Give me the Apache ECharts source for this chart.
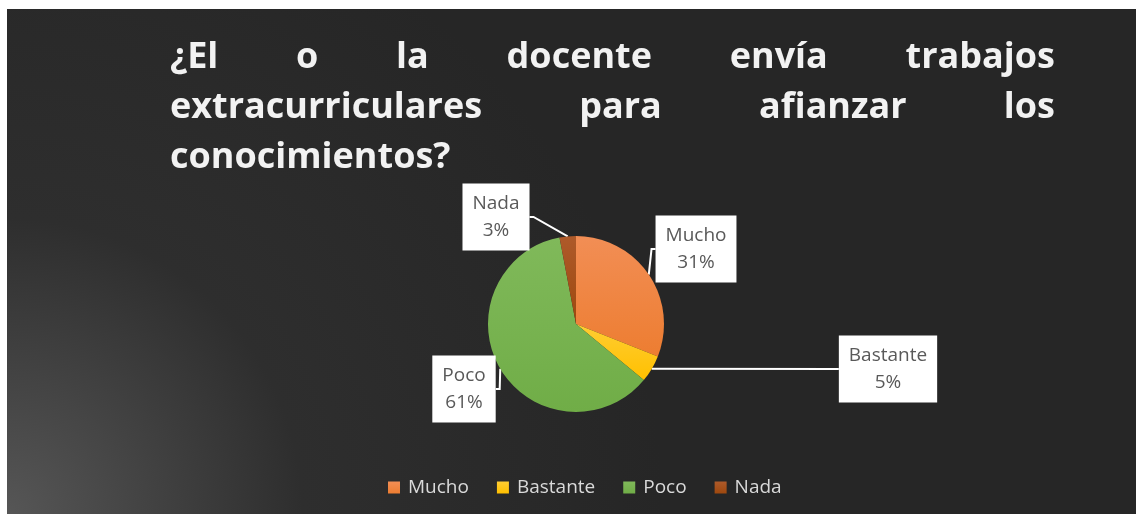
<!DOCTYPE html>
<html>
<head>
<meta charset="utf-8">
<script src="https://cdn.jsdelivr.net/npm/echarts@6/dist/echarts.min.js"></script>
<style>
  html, body { margin: 0; padding: 0; background: #ffffff; }
  #chart { position: absolute; left: 7px; top: 9px; width: 1129px; height: 505px; }
</style>
</head>
<body>
<div id="chart"></div>
<script>
// datos
const categorias = ['Mucho', 'Bastante', 'Poco', 'Nada'];
const valores = [31, 5, 61, 3];
const colores = ['#ED7D31', '#FFC000', '#70AD47', '#9E480E'];
const coloresClaros = ['#F28E55', '#FFCD33', '#80B95A', '#AE5A2A'];
const lineasTitulo = [
  ['¿El', 'o', 'la', 'docente', 'envía', 'trabajos'],
  ['extracurriculares', 'para', 'afianzar', 'los'],
  ['conocimientos?']
];

// posiciones de las etiquetas (cajas blancas)
const posEtiquetas = [[689, 240], [881, 360], [457, 380], [489, 208]];

const fuenteTitulo = 'bold 36px "Open Sans"';
const fuenteTexto = '"Open Sans"';
const ctx = document.createElement('canvas').getContext('2d');
ctx.font = fuenteTitulo;

const tituloIzq = 163, tituloDer = 1048;
const tituloY = [49, 99, 149];
const graficos = [];
lineasTitulo.forEach((palabras, i) => {
  const anchos = palabras.map(p => ctx.measureText(p).width);
  const total = anchos.reduce((a, b) => a + b, 0);
  const ultima = i === lineasTitulo.length - 1;
  const hueco = ultima ? 0 : (tituloDer - tituloIzq - total) / (palabras.length - 1);
  let x = tituloIzq;
  palabras.forEach((p, j) => {
    graficos.push({
      type: 'text',
      x: x,
      y: tituloY[i],
      style: {
        text: p,
        font: fuenteTitulo,
        fill: '#f2f2f2',
        verticalAlign: 'middle',
        shadowColor: 'rgba(0,0,0,0.9)',
        shadowBlur: 4,
        shadowOffsetX: 2,
        shadowOffsetY: 3
      }
    });
    x += anchos[j] + hueco;
  });
});

const chart = echarts.init(document.getElementById('chart'));
chart.setOption({
  backgroundColor: {
    type: 'radial', x: 0, y: 1, r: 1.3,
    colorStops: [
      { offset: 0, color: '#565656' },
      { offset: 0.45, color: '#2e2e2e' },
      { offset: 1, color: '#262626' }
    ]
  },
  animation: false,
  graphic: graficos,
  legend: {
    bottom: 12,
    left: 376,
    icon: 'rect',
    itemWidth: 12,
    itemHeight: 12,
    itemGap: 28,
    textStyle: { color: '#d9d9d9', fontSize: 19, fontFamily: fuenteTexto, padding: [0, 0, 0, 3] },
    data: categorias
  },
  series: [{
    type: 'pie',
    center: [569, 315],
    radius: 88,
    startAngle: 90,
    clockwise: true,
    data: categorias.map((c, i) => ({
      name: c,
      value: valores[i],
      itemStyle: {
        color: {
          type: 'linear', x: 0, y: 0, x2: 0, y2: 1,
          colorStops: [
            { offset: 0, color: coloresClaros[i] },
            { offset: 1, color: colores[i] }
          ]
        }
      }
    })),
    itemStyle: { borderWidth: 0 },
    label: {
      show: true,
      formatter: '{b}\n{d}%',
      backgroundColor: '#ffffff',
      color: '#595959',
      fontFamily: fuenteTexto,
      fontSize: 19,
      lineHeight: 27,
      padding: [7, 10, 6, 10],
      align: 'center',
      verticalAlign: 'middle'
    },
    labelLine: {
      show: true,
      length: 4,
      length2: 4,
      lineStyle: { color: '#ffffff', width: 2 }
    },
    labelLayout: function (p) {
      const pos = posEtiquetas[p.dataIndex];
      return { x: pos[0], y: pos[1], align: 'center', verticalAlign: 'middle' };
    }
  }]
});
</script>
</body>
</html>
